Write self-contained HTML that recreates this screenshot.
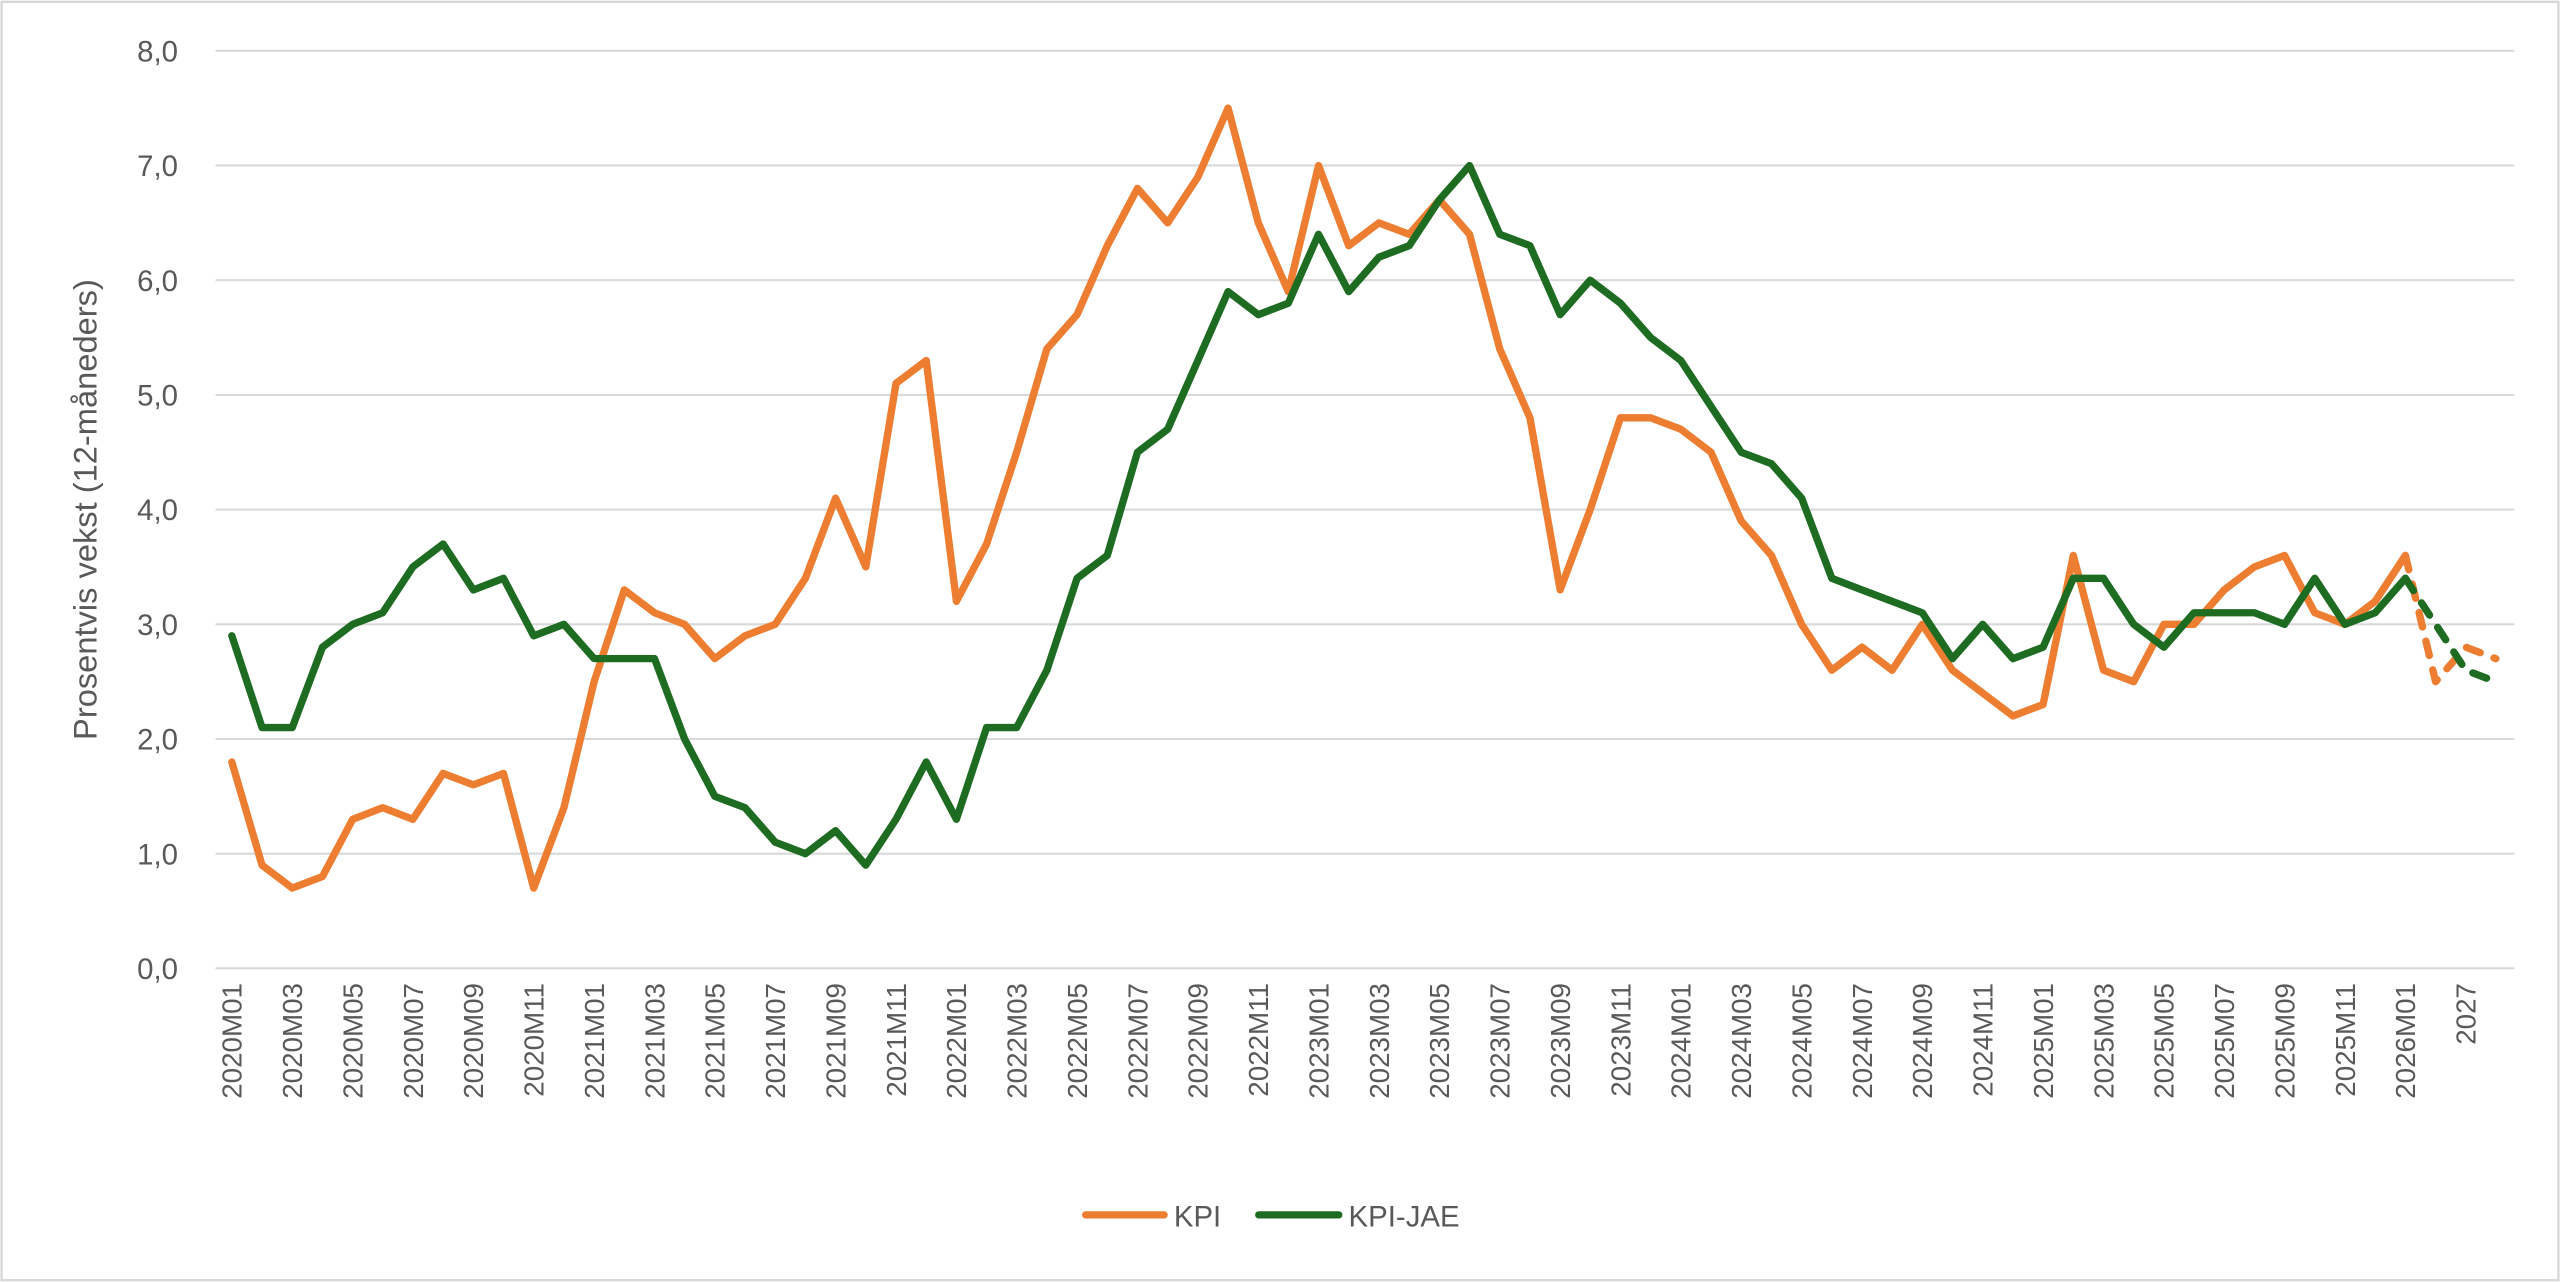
<!DOCTYPE html>
<html><head><meta charset="utf-8"><style>html,body{margin:0;padding:0;background:#fff}svg{display:block}</style></head>
<body>
<svg id="s" width="2560" height="1282" viewBox="0 0 1568 785" xmlns="http://www.w3.org/2000/svg" font-family="Liberation Sans, sans-serif">
<rect x="1" y="1" width="1566" height="783" fill="#fff" stroke="#d9d9d9" stroke-width="1.5"/>
<g id="grid"></g>
<text transform="translate(59,312) rotate(-90)" text-anchor="middle" font-size="20" fill="#595959">Prosentvis vekst (12-måneders)</text>
<g id="lines"></g>
<line x1="665" y1="744" x2="713" y2="744" stroke="#ED7D31" stroke-width="4.5" stroke-linecap="round"/>
<text x="719" y="751" font-size="18" fill="#595959">KPI</text>
<line x1="771" y1="744" x2="820" y2="744" stroke="#1E6B22" stroke-width="4.5" stroke-linecap="round"/>
<text x="826" y="751" font-size="18" fill="#595959">KPI-JAE</text>
</svg>
<script>
var NS="http://www.w3.org/2000/svg",s=document.getElementById('s'),g=document.getElementById('grid'),L=document.getElementById('lines');
function el(t,a,p,txt){var e=document.createElementNS(NS,t);for(var k in a)e.setAttribute(k,a[k]);if(txt!==undefined)e.textContent=txt;p.appendChild(e);return e;}
var y0=593,dy=70.25,x0=142,dx=18.49;
function Y(v){return y0-v*dy}function X(i){return x0+i*dx}
for(var v=0;v<=8;v++){el('line',{x1:132,x2:1540,y1:Y(v),y2:Y(v),stroke:'#d9d9d9','stroke-width':1.3},g);
el('text',{x:109,y:Y(v)+6.5,'text-anchor':'end','font-size':18,fill:'#595959'},g,v+',0');}
for(var i=0;i<76;i+=2){var lab;if(i==74)lab='2027';else{var yr=2020+Math.floor(i/12),m=i%12+1;lab=yr+'M'+(m<10?'0':'')+m;}
el('text',{transform:'translate('+(X(i)+6)+',602) rotate(-90)','text-anchor':'end','font-size':17,fill:'#595959'},g,lab);}
var kpi=[1.8,0.9,0.7,0.8,1.3,1.4,1.3,1.7,1.6,1.7,0.7,1.4,2.5,3.3,3.1,3.0,2.7,2.9,3.0,3.4,4.1,3.5,5.1,5.3,3.2,3.7,4.5,5.4,5.7,6.3,6.8,6.5,6.9,7.5,6.5,5.9,7.0,6.3,6.5,6.4,6.7,6.4,5.4,4.8,3.3,4.0,4.8,4.8,4.7,4.5,3.9,3.6,3.0,2.6,2.8,2.6,3.0,2.6,2.4,2.2,2.3,3.6,2.6,2.5,3.0,3.0,3.3,3.5,3.6,3.1,3.0,3.2,3.6,2.5,2.8,2.7];
var jae=[2.9,2.1,2.1,2.8,3.0,3.1,3.5,3.7,3.3,3.4,2.9,3.0,2.7,2.7,2.7,2.0,1.5,1.4,1.1,1.0,1.2,0.9,1.3,1.8,1.3,2.1,2.1,2.6,3.4,3.6,4.5,4.7,5.3,5.9,5.7,5.8,6.4,5.9,6.2,6.3,6.7,7.0,6.4,6.3,5.7,6.0,5.8,5.5,5.3,4.9,4.5,4.4,4.1,3.4,3.3,3.2,3.1,2.7,3.0,2.7,2.8,3.4,3.4,3.0,2.8,3.1,3.1,3.1,3.0,3.4,3.0,3.1,3.4,3.0,2.6,2.5];
function pts(a,f,t){var p=[];for(var i=f;i<=t;i++)p.push(X(i).toFixed(1)+','+Y(a[i]).toFixed(1));return p.join(' ');}
[[kpi,'#ED7D31'],[jae,'#1E6B22']].forEach(function(d){
el('polyline',{points:pts(d[0],0,72),fill:'none',stroke:d[1],'stroke-width':4.5,'stroke-linejoin':'round','stroke-linecap':'round'},L);
el('polyline',{points:pts(d[0],72,75),fill:'none',stroke:d[1],'stroke-width':4.5,'stroke-linejoin':'round','stroke-linecap':'round','stroke-dasharray':'9,9'},L);});
</script>
</body></html>
